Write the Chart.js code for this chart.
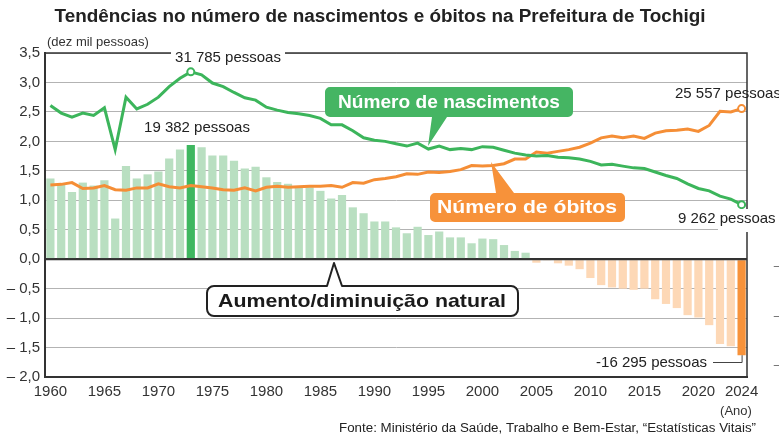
<!DOCTYPE html>
<html><head><meta charset="utf-8">
<script src="https://cdn.jsdelivr.net/npm/chart.js@4.4.1/dist/chart.umd.min.js"></script>
<style>html,body{margin:0;padding:0;background:#fff;}#wrap{width:779px;height:436px;}</style>
</head><body><div id="wrap"><canvas id="c" width="779" height="436"></canvas></div>
<script>
const years = [1960,1961,1962,1963,1964,1965,1966,1967,1968,1969,1970,1971,1972,1973,1974,1975,1976,1977,1978,1979,
1980,1981,1982,1983,1984,1985,1986,1987,1988,1989,1990,1991,1992,1993,1994,1995,1996,1997,1998,1999,
2000,2001,2002,2003,2004,2005,2006,2007,2008,2009,2010,2011,2012,2013,2014,2015,2016,2017,2018,2019,
2020,2021,2022,2023,2024];
const tickYears = [1960,1965,1970,1975,1980,1985,1990,1995,2000,2005,2010,2015,2020,2024];
// unit: dez mil pessoas
const births = [2.61,2.48,2.41,2.48,2.44,2.57,1.86,2.75,2.55,2.63,2.75,2.93,3.07,3.18,3.13,2.99,2.93,2.83,2.74,2.70,
2.58,2.53,2.49,2.47,2.44,2.39,2.28,2.28,2.18,2.06,2.02,2.00,1.96,1.92,1.97,1.87,1.92,1.86,1.88,1.86,
1.91,1.90,1.85,1.80,1.77,1.75,1.76,1.73,1.72,1.70,1.66,1.60,1.61,1.58,1.55,1.54,1.48,1.42,1.37,1.28,
1.20,1.16,1.07,1.02,0.926];
const deaths = [1.26,1.27,1.30,1.20,1.21,1.25,1.18,1.17,1.21,1.21,1.28,1.23,1.21,1.25,1.23,1.21,1.18,1.17,1.21,1.16,
1.22,1.24,1.22,1.23,1.24,1.24,1.25,1.22,1.30,1.29,1.35,1.37,1.40,1.45,1.44,1.48,1.47,1.49,1.52,1.59,
1.58,1.59,1.62,1.70,1.70,1.82,1.80,1.83,1.86,1.90,1.97,2.06,2.09,2.06,2.09,2.05,2.14,2.18,2.19,2.21,
2.17,2.27,2.51,2.50,2.556];
const natural = [1.37,1.27,1.14,1.30,1.25,1.34,0.69,1.58,1.37,1.44,1.49,1.71,1.86,1.94,1.90,1.76,1.76,1.67,1.54,1.57,
1.39,1.31,1.28,1.21,1.22,1.16,1.03,1.09,0.88,0.78,0.64,0.64,0.54,0.44,0.55,0.41,0.47,0.37,0.37,0.27,
0.35,0.34,0.24,0.14,0.11,-0.06,-0.01,-0.07,-0.11,-0.17,-0.32,-0.44,-0.48,-0.50,-0.52,-0.50,-0.68,-0.76,-0.83,-0.95,
-0.99,-1.12,-1.44,-1.48,-1.63];
const peakBirthYear = 1973;
const lastYear = 2024;

const peakIdx = years.indexOf(peakBirthYear);
const lastIdx = years.indexOf(lastYear);
const barColors = natural.map((v,i)=> v>=0 ? (i===peakIdx?'#3fb760':'#b9dfc1') : (i===lastIdx?'#f7923a':'#fdd8b6'));
const birthRadius = years.map((y,i)=> (i===peakIdx||i===lastIdx)?3.5:0);
const deathRadius = years.map((y,i)=> (i===lastIdx)?3.5:0);

const FONT = "'Liberation Sans', Arial, sans-serif";

function fitText(ctx, text, x, y, targetW, font, align, color){
  ctx.save(); ctx.font = font;
  const w = ctx.measureText(text).width;
  const s = targetW / w;
  ctx.translate(x, y); ctx.scale(s, 1);
  ctx.textAlign = align; ctx.textBaseline = 'middle'; ctx.fillStyle = color;
  ctx.fillText(text, 0, 0); ctx.restore();
}
function plainText(ctx, text, x, y, size, align, color, bold){
  ctx.save(); ctx.font = (bold?'bold ':'') + size + 'px ' + FONT;
  ctx.textAlign = align; ctx.textBaseline = 'middle'; ctx.fillStyle = color;
  ctx.fillText(text, x, y); ctx.restore();
}
function calloutPath(ctx, x, y, w, h, r, p){
  ctx.beginPath();
  ctx.moveTo(x+r, y);
  if (p.side==='top'){ ctx.lineTo(p.a, y); ctx.lineTo(p.tx, p.ty); ctx.lineTo(p.b, y); }
  ctx.lineTo(x+w-r, y); ctx.arcTo(x+w, y, x+w, y+r, r);
  ctx.lineTo(x+w, y+h-r); ctx.arcTo(x+w, y+h, x+w-r, y+h, r);
  if (p.side==='bottom'){ ctx.lineTo(p.b, y+h); ctx.lineTo(p.tx, p.ty); ctx.lineTo(p.a, y+h); }
  ctx.lineTo(x+r, y+h); ctx.arcTo(x, y+h, x, y+h-r, r);
  ctx.lineTo(x, y+r); ctx.arcTo(x, y, x+r, y, r);
  ctx.closePath();
}

const decor = {
  id:'decor',
  beforeDatasetsDraw(chart){
    const {ctx, chartArea:a} = chart;
    ctx.save(); ctx.strokeStyle='#333'; ctx.lineWidth=1.5;
    ctx.beginPath(); ctx.moveTo(a.left, a.top); ctx.lineTo(a.right, a.top); ctx.lineTo(a.right, a.bottom); ctx.stroke();
    ctx.restore();
  },
  afterDatasetsDraw(chart){
    const {ctx, chartArea:a, scales:{y}} = chart;
    const y0 = y.getPixelForValue(0);
    ctx.save(); ctx.strokeStyle='#333'; ctx.lineWidth=2;
    ctx.beginPath(); ctx.moveTo(a.left, y0); ctx.lineTo(a.right, y0); ctx.stroke(); ctx.restore();
  },
  afterDraw(chart){
    const {ctx, chartArea:a, scales:{x, y}} = chart;
    // title
    fitText(ctx, 'Tendências no número de nascimentos e óbitos na Prefeitura de Tochigi', 380, 17, 651, 'bold 18px '+FONT, 'center', '#222');
    plainText(ctx, '(dez mil pessoas)', 47, 42, 13, 'left', '#333');
    // value labels
    ctx.save(); ctx.fillStyle='#fff'; ctx.fillRect(171, 49, 114, 17); ctx.restore();
    plainText(ctx, '31 785 pessoas', 228, 58, 15, 'center', '#222');
    plainText(ctx, '19 382 pessoas', 197, 128, 15, 'center', '#222');
    plainText(ctx, '25 557 pessoas', 675, 94, 15, 'left', '#222');
    ctx.save(); ctx.fillStyle='#fff'; ctx.fillRect(676, 209, 103, 20); ctx.fillRect(718, 228, 61, 4); ctx.restore();
    plainText(ctx, '9 262 pessoas', 678, 219, 15, 'left', '#222');
    plainText(ctx, '-16 295 pessoas', 707, 363, 15, 'right', '#222');
    const lx = x.getPixelForValue(lastIdx), ly = y.getPixelForValue(natural[lastIdx]);
    ctx.save(); ctx.strokeStyle='#444'; ctx.lineWidth=1;
    ctx.beginPath(); ctx.moveTo(713, 362.5); ctx.lineTo(lx+0.5, 362.5); ctx.lineTo(lx+0.5, ly); ctx.stroke(); ctx.restore();
    // callouts
    ctx.save();
    calloutPath(ctx, 325, 87, 248, 30, 5, {side:'bottom', a:432, b:447, tx:428, ty:146});
    ctx.fillStyle='#45b563'; ctx.fill();
    calloutPath(ctx, 430, 193, 195, 29, 5, {side:'top', a:496, b:514, tx:491, ty:162});
    ctx.fillStyle='#f7923a'; ctx.fill();
    calloutPath(ctx, 207, 286, 311, 30, 7, {side:'top', a:327, b:342, tx:334, ty:263});
    ctx.fillStyle='#fff'; ctx.fill(); ctx.strokeStyle='#222'; ctx.lineWidth=2; ctx.lineJoin='round'; ctx.stroke();
    ctx.restore();
    fitText(ctx, 'Número de nascimentos', 449, 102.5, 222, 'bold 19px '+FONT, 'center', '#fff');
    fitText(ctx, 'Número de óbitos', 527, 208, 180, 'bold 19px '+FONT, 'center', '#fff');
    fitText(ctx, 'Aumento/diminuição natural', 362, 301.5, 288, 'bold 19px '+FONT, 'center', '#1a1a1a');
    // axis unit and source
    plainText(ctx, '(Ano)', 736, 411, 13, 'center', '#333');
    fitText(ctx, 'Fonte: Ministério da Saúde, Trabalho e Bem-Estar, “Estatísticas Vitais”', 756, 429, 417, '12px '+FONT, 'right', '#222');
    // cropped marks at the right edge
    ['–','–','–'].forEach((t,i)=> plainText(ctx, t, 777, [267,317,366][i], 12, 'center', '#666'));
  }
};

function fmtY(v){
  const s = Math.abs(v).toFixed(1).replace('.', ',');
  return v < 0 ? '– ' + s : s;
}

new Chart(document.getElementById('c'), {
  type:'bar',
  data:{
    labels: years,
    datasets:[
      {type:'line', label:'Número de nascimentos', data:births, borderColor:'#3cb55b', borderWidth:3, tension:0,
       pointRadius:birthRadius, pointBackgroundColor:'#fff', pointBorderColor:'#3cb55b', pointBorderWidth:2, order:0},
      {type:'line', label:'Número de óbitos', data:deaths, borderColor:'#f58e36', borderWidth:3, tension:0,
       pointRadius:deathRadius, pointBackgroundColor:'#fff', pointBorderColor:'#f58e36', pointBorderWidth:2, order:1},
      {type:'bar', label:'Aumento/diminuição natural', data:natural, backgroundColor:barColors,
       barPercentage:0.76, categoryPercentage:1.0, order:2}
    ]
  },
  options:{
    responsive:false, animation:false, devicePixelRatio:1,
    layout:{padding:{top:53, right:32, bottom:0, left:0}},
    plugins:{legend:{display:false}, title:{display:false}, tooltip:{enabled:false}},
    scales:{
      x:{offset:true, grid:{display:false, drawTicks:false},
         border:{display:true, color:'#333', width:2},
         ticks:{autoSkip:false, maxRotation:0, minRotation:0, padding:6, color:'#333', font:{family:FONT, size:15},
           callback(v,i){ return tickYears.includes(years[i]) ? String(years[i]) : ''; }},
         afterFit(s){ s.height = 59; }},
      y:{min:-2, max:3.5,
         grid:{drawTicks:false, color:c=> c.tick && c.tick.value===0 ? '#333' : '#b3b3b3', lineWidth:c=> c.tick && c.tick.value===0 ? 2 : 1},
         border:{display:true, color:'#333', width:2},
         ticks:{stepSize:0.5, padding:5, color:'#333', font:{family:FONT, size:15}, callback:v=>fmtY(v)},
         afterFit(s){ s.width = 45; }}
    }
  },
  plugins:[decor]
});
</script></body></html>
